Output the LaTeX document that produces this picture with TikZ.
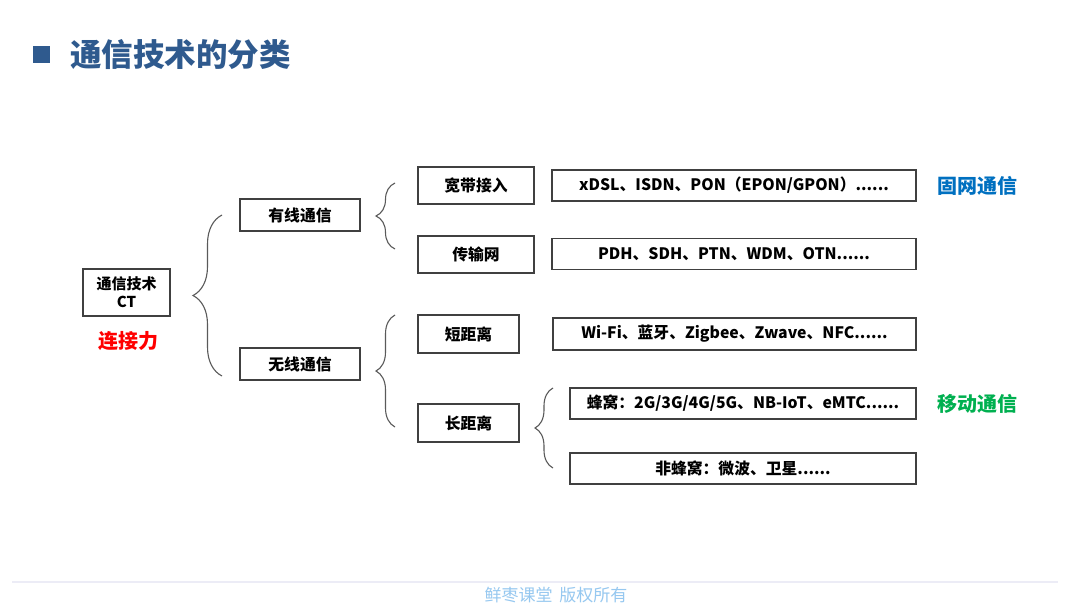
\documentclass[tikz,border=0pt]{standalone}
\usepackage{fontspec}
\setmainfont{Noto Sans CJK SC}
\usetikzlibrary{decorations.pathreplacing}
\definecolor{titleblue}{RGB}{47,90,142}
\definecolor{boxgray}{RGB}{64,64,64}
\definecolor{bracegray}{RGB}{90,90,90}
\definecolor{fixedblue}{RGB}{0,112,192}
\definecolor{mobilegreen}{RGB}{0,176,80}
\definecolor{footblue}{RGB}{150,200,240}
\definecolor{footline}{RGB}{236,236,246}

\begin{document}
\begin{tikzpicture}[x=1pt,y=-1pt,
    box/.style={draw=boxgray,line width=1.3pt,inner sep=0pt,align=center,
      font=\fontsize{15.8}{18}\selectfont\bfseries},
    curly/.style={decorate,decoration={brace,amplitude=#1},draw=bracegray,line width=1.1pt},
    tag/.style={font=\fontsize{20}{24}\selectfont\bfseries}]
    \fill[white] (0,0) rectangle (1080,608);
    \useasboundingbox (0,0) rectangle (1080,608);
    % title
    \fill[titleblue] (33,46) rectangle (50,63);
    \node[anchor=west,text=titleblue,font=\fontsize{31.5}{36}\selectfont\bfseries,inner sep=0pt] (title) at (70,55) {通信技术的分类};
    % root
    \node[box,minimum width=87pt,minimum height=47pt,font=\fontsize{15}{18}\selectfont\bfseries] (ct) at (126.5,292.5) {通信技术\\CT};
    \node[tag,text=red] (power) at (128,341) {连接力};
    % second level
    \node[box,minimum width=120pt,minimum height=32pt] (wired) at (300,215) {有线通信};
    \node[box,minimum width=120pt,minimum height=32pt] (wireless) at (300,364) {无线通信};
    % third level
    \node[box,minimum width=116pt,minimum height=37pt] (broadband) at (476,185.5) {宽带接入};
    \node[box,minimum width=116pt,minimum height=37pt] (transport) at (476,254.5) {传输网};
    \node[box,minimum width=101pt,minimum height=38pt] (short) at (468.5,334) {短距离};
    \node[box,minimum width=101pt,minimum height=38pt] (long) at (468.5,423) {长距离};
    % examples
    \node[box,minimum width=364pt,minimum height=31pt] (xdsl) at (734,185.5) {xDSL、ISDN、PON（EPON/GPON）......};
    \node[box,minimum width=364pt,minimum height=31pt] (pdh) at (734,254) {PDH、SDH、PTN、WDM、OTN......};
    \node[box,minimum width=363pt,minimum height=32pt] (wifi) at (734.5,334) {Wi-Fi、蓝牙、Zigbee、Zwave、NFC......};
    \node[box,minimum width=346pt,minimum height=31pt] (cellular) at (743,403.5) {蜂窝：2G/3G/4G/5G、NB-IoT、eMTC......};
    \node[box,minimum width=346pt,minimum height=31pt] (noncell) at (743,468.5) {非蜂窝：微波、卫星......};
    \node[tag,text=fixedblue] (fixed) at (977,186) {固网通信};
    \node[tag,text=mobilegreen] (mobile) at (977,404) {移动通信};
    % braces, drawn bottom to top so the tip points left
    \coordinate (b1top) at (222,215);
    \coordinate (b1bot) at (222,376);
    \coordinate (b2top) at (395,183);
    \coordinate (b2bot) at (395,249);
    \coordinate (b3top) at (395,315);
    \coordinate (b3bot) at (395,427);
    \coordinate (b4top) at (553,388);
    \coordinate (b4bot) at (553,468);
    \draw[curly=29pt] (b1bot) -- (b1top);
    \draw[curly=19pt] (b2bot) -- (b2top);
    \draw[curly=19pt] (b3bot) -- (b3top);
    \draw[curly=18pt] (b4bot) -- (b4top);
    % footer
    \draw[footline,line width=1.5pt] (12,582) -- (1058,582);
    \node[text=footblue,font=\fontsize{17}{20}\selectfont] (foot) at (556,595) {鲜枣课堂\hspace{0.4em}版权所有};
\end{tikzpicture}
\end{document}
